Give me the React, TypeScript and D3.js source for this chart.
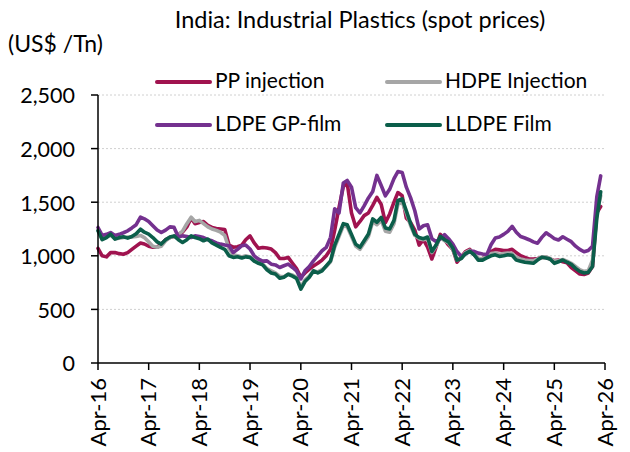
import React from "react";
import * as d3 from "d3";

const seriesNames = ["PP injection", "HDPE Injection", "LDPE GP-film", "LLDPE Film"];
const seriesColors = ["#A0134F", "#A6A6A6", "#74318F", "#0B5E4A"];

const startYear = 2016;
const startMonth = 3; // April

const ppInjection = [
  1070, 1000, 990, 1030, 1030, 1020, 1015, 1030, 1060, 1090,
  1120, 1110, 1090, 1080, 1080, 1110, 1150, 1170, 1180, 1200,
  1220, 1270, 1350, 1300, 1310, 1320, 1285, 1265, 1255, 1250,
  1245, 1100, 1080, 1085, 1100, 1150, 1186, 1120, 1070, 1078,
  1072, 1063, 1030, 975, 975, 985, 930, 880, 800, 840,
  875, 905, 930, 960, 1000, 1060, 1240, 1450, 1645, 1680,
  1400, 1270, 1320, 1375, 1400, 1470, 1545, 1480, 1310, 1390,
  1500, 1590, 1560, 1350, 1310, 1240, 1100, 1150, 1080, 970,
  1080, 1200, 1150, 1100, 1060, 940, 990, 1040, 1060, 1010,
  970, 975, 1000, 1040, 1060, 1055, 1050, 1050, 1060, 1030,
  1000, 985, 970, 970, 975, 985, 985, 970, 955, 960,
  945, 935, 890, 860, 830, 825, 840, 900, 1400, 1460,
];

const hdpeInjection = [
  1240, 1170, 1175, 1190, 1160, 1165, 1170, 1175, 1175, 1180,
  1190, 1170, 1130, 1090, 1080, 1090, 1140, 1170, 1180, 1200,
  1230, 1300, 1360, 1320, 1330, 1300, 1270, 1250, 1237, 1220,
  1190, 1065, 1010, 1000, 990, 1000, 990, 960, 940, 925,
  880, 860, 840, 810, 805, 830, 820, 800, 710, 775,
  810, 860, 850, 870, 900, 945, 1080, 1180, 1280, 1270,
  1180, 1090, 1060, 1120, 1180, 1320, 1290, 1330, 1230, 1220,
  1300, 1480, 1500, 1400, 1280, 1190, 1160, 1150, 1160, 1030,
  1090, 1170, 1140, 1120, 1060, 960, 980, 1030, 1050, 1020,
  975, 975, 995, 1020, 1025, 1015, 1020, 1025, 1020, 985,
  970, 960, 955, 955, 970, 990, 990, 975, 950, 955,
  965, 950, 930, 900, 870, 855, 860, 960, 1400, 1560,
];

const ldpeGpFilm = [
  1264, 1190, 1200, 1217, 1190, 1200, 1215, 1233, 1260, 1290,
  1360, 1345, 1320, 1280, 1240, 1217, 1240, 1270, 1265, 1175,
  1186, 1180, 1171, 1186, 1180, 1170, 1150, 1140, 1120, 1109,
  1100, 1093, 1031, 1060, 1094, 1100, 1063, 1000, 969, 950,
  953, 922, 915, 891, 907, 922, 891, 860, 785, 860,
  900, 953, 1000, 1047, 1078, 1172, 1438, 1400, 1680, 1703,
  1640, 1450, 1400, 1466, 1540, 1600, 1750, 1656, 1560, 1620,
  1720, 1786, 1777, 1640, 1540, 1420, 1250, 1280, 1290, 1160,
  1134, 1160, 1197, 1160, 1110, 1040, 994, 1016, 1041, 1041,
  1025, 1016, 1009, 1103, 1166, 1175, 1200, 1228, 1275, 1220,
  1180, 1166, 1150, 1130, 1117, 1172, 1215, 1190, 1160, 1147,
  1178, 1155, 1132, 1090, 1060, 1038, 1050, 1090, 1550, 1745,
];

const lldpeFilm = [
  1233, 1150, 1170, 1202, 1155, 1170, 1177, 1165, 1180, 1205,
  1248, 1220, 1202, 1170, 1130, 1109, 1150, 1175, 1186, 1150,
  1124, 1150, 1186, 1171, 1160, 1140, 1155, 1120, 1100, 1078,
  1060, 1000, 985, 991, 980, 990, 985, 950, 930, 915,
  870, 840, 830, 790, 800, 828, 810, 790, 690, 760,
  800, 859, 840, 860, 906, 953, 1100, 1200, 1300, 1290,
  1200, 1109, 1080, 1141, 1203, 1344, 1313, 1359, 1260, 1250,
  1330, 1516, 1531, 1420, 1300, 1200, 1170, 1160, 1175, 1040,
  1100, 1181, 1150, 1130, 1072, 960, 975, 1020, 1041, 1010,
  960, 960, 980, 1000, 1009, 994, 1000, 1009, 1005, 960,
  950, 940, 935, 930, 960, 986, 980, 970, 930, 945,
  961, 940, 920, 883, 855, 840, 845, 900, 1350, 1598,
];

const yTicks = [0, 500, 1000, 1500, 2000, 2500];
const xTickYears = [2016, 2017, 2018, 2019, 2020, 2021, 2022, 2023, 2024, 2025, 2026];

const FONT = "Lato, 'Open Sans', sans-serif";

export default function App() {
  const W = 630;
  const H = 452;
  const left = 98;
  const right = 605;
  const top = 95;
  const bottom = 363;

  const x = d3
    .scaleTime()
    .domain([new Date(2016, 3, 1), new Date(2026, 3, 1)])
    .range([left, right]);
  const y = d3.scaleLinear().domain([0, 2500]).range([bottom, top]);

  const allSeries = [ppInjection, hdpeInjection, ldpeGpFilm, lldpeFilm];
  const line = d3
    .line<number>()
    .x((_, i) => x(new Date(startYear, startMonth + i, 1)))
    .y((v) => y(v));

  const fmt = d3.format(",");

  const legendItems = [
    { i: 0, lx: 157, ly: 82 },
    { i: 1, lx: 387, ly: 82 },
    { i: 2, lx: 157, ly: 125 },
    { i: 3, lx: 387, ly: 125 },
  ];

  return (
    <svg
      width={W}
      height={H}
      style={{ position: "absolute", left: 0, top: 0, background: "#fff" }}
      fontFamily={FONT}
    >
      <rect x={0} y={0} width={W} height={H} fill="#fff" />
      {/* gridlines */}
      {yTicks
        .filter((t) => t > 0)
        .map((t) => (
          <line
            key={"g" + t}
            x1={left}
            x2={right}
            y1={y(t)}
            y2={y(t)}
            stroke="#d0d0d0"
            strokeWidth={1}
            strokeDasharray="2,2"
          />
        ))}
      {/* series */}
      {allSeries.map((s, i) => (
        <path
          key={"s" + i}
          d={line(s) || ""}
          fill="none"
          stroke={seriesColors[i]}
          strokeWidth={3.6}
          strokeLinejoin="round"
          strokeLinecap="round"
        />
      ))}
      {/* y axis */}
      <line x1={left} x2={left} y1={top} y2={bottom} stroke="#000" strokeWidth={1.5} />
      {yTicks.map((t) => (
        <g key={"yt" + t}>
          <line x1={left - 7} x2={left} y1={y(t)} y2={y(t)} stroke="#000" strokeWidth={1.5} />
          <text
            x={75}
            y={y(t) + 3}
            textAnchor="end"
            dominantBaseline="middle"
            fontSize={21.5}
            fill="#000"
          >
            {fmt(t)}
          </text>
        </g>
      ))}
      {/* x axis */}
      <line x1={left} x2={right} y1={bottom} y2={bottom} stroke="#000" strokeWidth={1.5} />
      {xTickYears.map((yr) => {
        const xx = x(new Date(yr, 3, 1));
        return (
          <g key={"xt" + yr}>
            <line x1={xx} x2={xx} y1={bottom} y2={bottom + 7} stroke="#000" strokeWidth={1.5} />
            <text
              transform={`translate(${xx + 2},378) rotate(-90)`}
              textAnchor="end"
              dominantBaseline="middle"
              fontSize={22}
              fill="#000"
            >
              {"Apr-" + String(yr).slice(2)}
            </text>
          </g>
        );
      })}
      {/* title */}
      <text x={360} y={28} textAnchor="middle" fontSize={23.5} fill="#000">
        India: Industrial Plastics (spot prices)
      </text>
      <text x={8} y={52} fontSize={23} fill="#000">
        (US$ /Tn)
      </text>
      {/* legend */}
      {legendItems.map((it) => (
        <g key={"lg" + it.i}>
          <line
            x1={it.lx}
            x2={it.lx + 53}
            y1={it.ly}
            y2={it.ly}
            stroke={seriesColors[it.i]}
            strokeWidth={4}
            strokeLinecap="round"
          />
          <text x={it.lx + 58} y={it.ly + 1} dominantBaseline="middle" fontSize={21} fill="#000">
            {seriesNames[it.i]}
          </text>
        </g>
      ))}
    </svg>
  );
}
